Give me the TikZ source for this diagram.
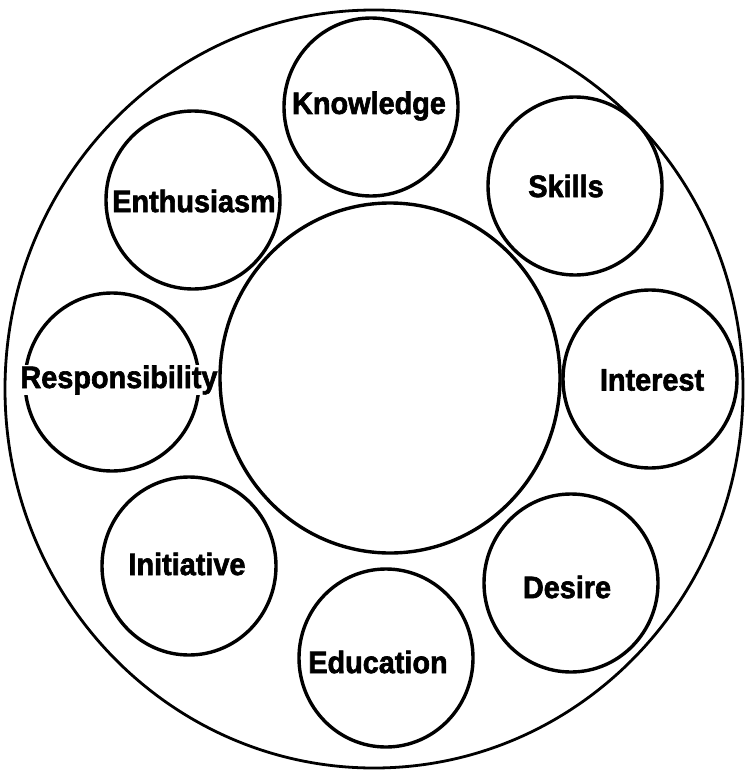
\documentclass[tikz,border=0pt]{standalone}
\usepackage{fontspec}
\setmainfont{Liberation Sans}
\newfontfamily\heavysans{Liberation Sans Bold}[FakeBold=2,FakeStretch=0.93]
\usetikzlibrary{shapes.geometric}
\begin{document}
\begin{tikzpicture}[x=1pt,y=-1pt,
  bub/.style={draw=black, line width=3.4pt, ellipse, inner sep=0pt,
    minimum width=174pt, minimum height=178pt},
  lbl/.style={inner sep=0.5pt, font=\fontsize{31}{33}\selectfont\heavysans},
  gap/.style={lbl, fill=white}]
\useasboundingbox (0,0) rectangle (744,773);
\fill[white] (0,0) rectangle (744,773);
\node[draw=black, line width=2.8pt, ellipse, inner sep=0pt,
  minimum width=738pt, minimum height=758pt] (outer) at (374,389) {};
\node[draw=black, line width=3.4pt, ellipse, inner sep=0pt,
  minimum width=340pt, minimum height=350pt] (core) at (390,378) {};
\node[bub] (know) at (371,107) {};
\node[bub] (skills) at (575,186) {};
\node[bub] (interest) at (650,379) {};
\node[bub] (desire) at (571,583) {};
\node[bub] (educ) at (386,658) {};
\node[bub] (init) at (189,566) {};
\node[bub] (resp) at (112,382) {};
\node[bub] (enth) at (193,200) {};
\node[lbl] (knowtxt) at ([xshift=-2pt,yshift=1pt]know.center) {Knowledge};
\node[lbl] (skillstxt) at ([xshift=-9pt]skills.center) {Skills};
\node[lbl] (interesttxt) at ([xshift=2pt,yshift=-1pt]interest.center) {Interest};
\node[lbl] (desiretxt) at ([xshift=-4pt,yshift=-4pt]desire.center) {Desire};
\node[lbl] (eductxt) at ([xshift=-8pt,yshift=-4pt]educ.center) {Education};
\node[lbl] (inittxt) at ([xshift=-2pt,yshift=2pt]init.center) {Initiative};
\node[gap] (resptxt) at ([xshift=7pt,yshift=2pt]resp.center) {Responsibility};
\node[gap] (enthtxt) at ([xshift=1pt,yshift=-1pt]enth.center) {Enthusiasm};
\end{tikzpicture}
\end{document}
